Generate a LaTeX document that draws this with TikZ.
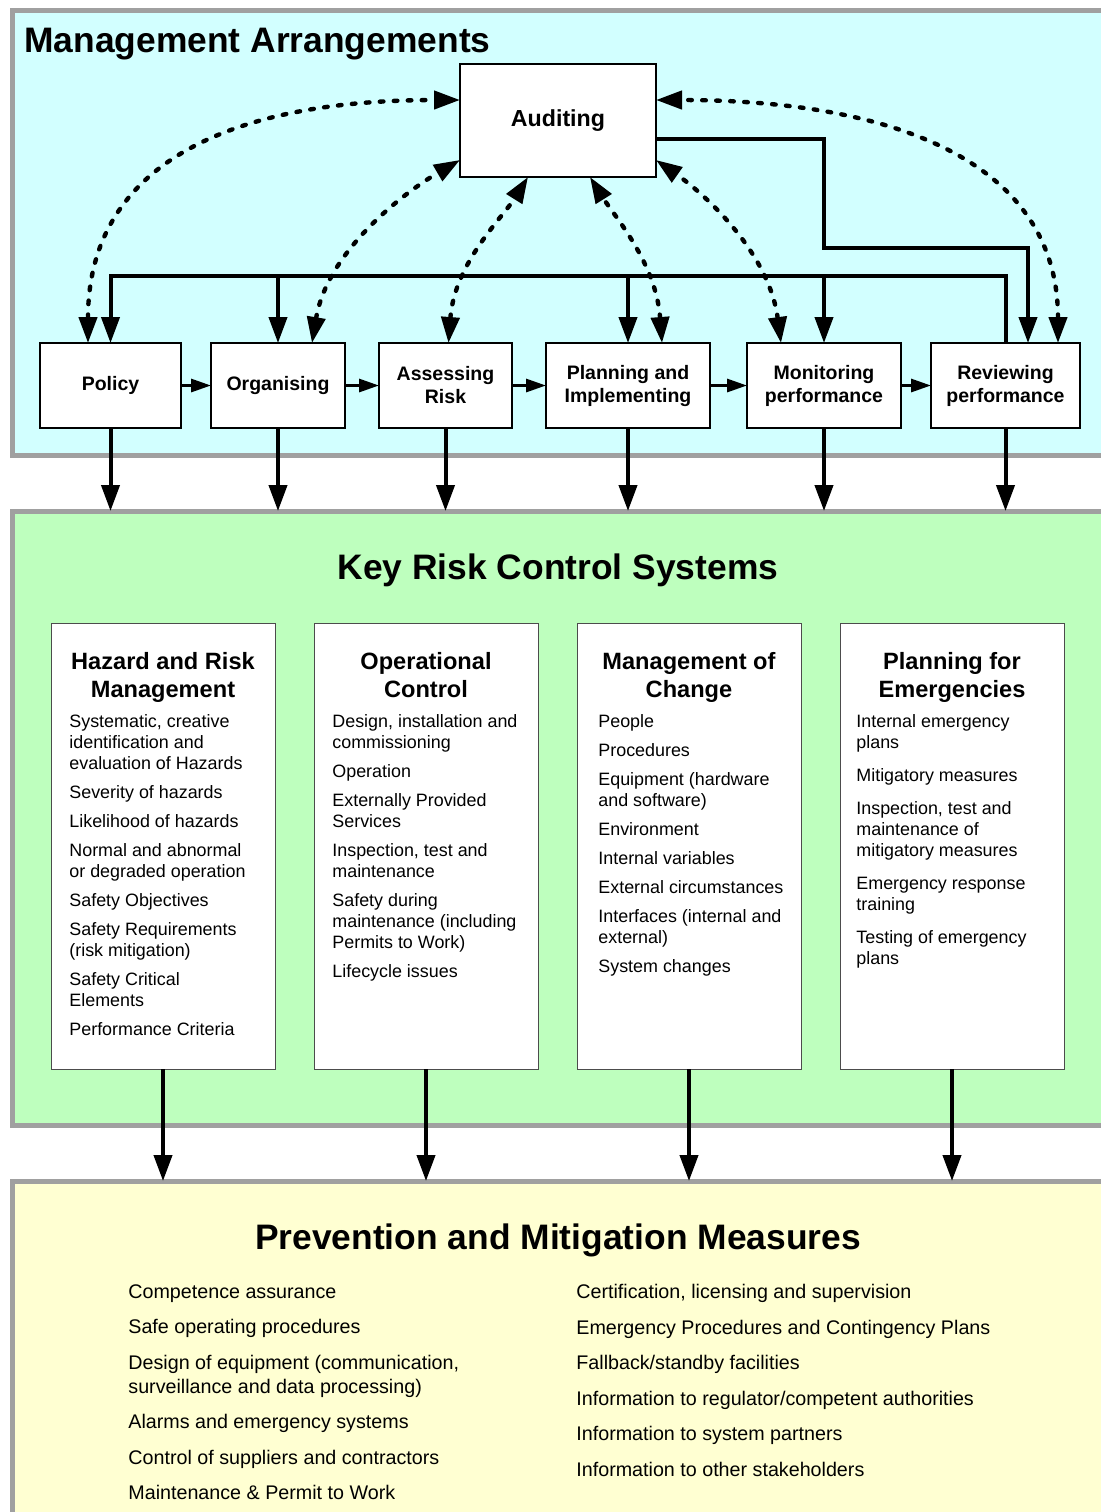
\documentclass[tikz,border=0pt]{standalone}
\usepackage{fontspec}
\setmainfont{Liberation Sans}
\usetikzlibrary{arrows.meta}
\definecolor{mapanel}{HTML}{D2FFFF}
\definecolor{krpanel}{HTML}{BEFFBE}
\definecolor{pmpanel}{HTML}{FFFFD2}
\definecolor{panelline}{HTML}{A0A0A0}
\begin{document}
\begin{tikzpicture}[x=0.5pt,y=-0.5pt,
  panel/.style={draw=panelline,line width=2.5pt,inner sep=0pt,outer sep=0pt,minimum width=551.25pt},
  paneltitle/.style={font=\bfseries\fontsize{17.7}{20}\selectfont,inner sep=0pt},
  stage/.style={draw,line width=1pt,fill=white,align=center,inner sep=0pt,outer sep=0pt,minimum height=42.5pt,font=\bfseries\fontsize{9.75}{11.5}\selectfont},
  krcsbox/.style={draw=black!70,line width=0.5pt,fill=white,minimum width=112pt,minimum height=223pt,outer sep=0pt},
  krcshead/.style={anchor=north,align=center,inner sep=0pt,font=\bfseries\fontsize{11.8}{14}\selectfont},
  krcsitems/.style={anchor=north west,align=left,inner sep=0pt,font=\fontsize{8.95}{10.5}\selectfont},
  pmmitems/.style={anchor=north west,align=left,inner sep=0pt,font=\fontsize{9.85}{12}\selectfont},
  flow/.style={line width=2pt,-{Triangle[length=13pt,width=9pt]}},
  nextstage/.style={line width=1.5pt,-{Triangle[length=10pt,width=6.5pt]}},
  audit/.style={line width=2.2pt,dash pattern=on 1.8pt off 5.2pt,line cap=round,{Triangle[length=13pt,width=9pt]}-{Triangle[length=13pt,width=9pt]}}]
\useasboundingbox (0,0) rectangle (1101,1512);

\node[panel,fill=mapanel,minimum height=222.5pt] (ma) at (563.75,233) {};
\node[panel,fill=krpanel,minimum height=307.25pt] (krcs) at (563.75,818.25) {};
\node[panel,fill=pmpanel,minimum height=174.5pt] (pmm) at (563.75,1355.5) {};

\node[paneltitle,anchor=base west] (matitle) at (24,52) {Management Arrangements};
\node[paneltitle,anchor=base] (krcstitle) at (558,579) {Key Risk Control Systems};
\node[paneltitle,anchor=base] (pmmtitle) at (558,1249) {Prevention and Mitigation Measures};

\node[stage,minimum width=98pt,minimum height=56.5pt,font=\bfseries\fontsize{11.6}{14}\selectfont] (aud) at (558,120.5) {Auditing};
\node[stage,minimum width=70.5pt] (pol) at (110.5,385.5) {Policy};
\node[stage,minimum width=67pt] (org) at (278,385.5) {Organising};
\node[stage,minimum width=66.5pt] (ass) at (445.5,385.5) {Assessing\\Risk};
\node[stage,minimum width=82pt] (pla) at (628,385.5) {Planning and\\Implementing};
\node[stage,minimum width=77pt] (mon) at (824,385.5) {Monitoring\\performance};
\node[stage,minimum width=74.5pt] (rev) at (1005.5,385.5) {Reviewing\\performance};

\draw[nextstage] (pol) -- (org);
\draw[nextstage] (org) -- (ass);
\draw[nextstage] (ass) -- (pla);
\draw[nextstage] (pla) -- (mon);
\draw[nextstage] (mon) -- (rev);

\coordinate (bus) at (558,276);
\coordinate (elbow) at (824,248);
\draw[flow] (rev.north) -- (rev.north |- bus) -- (pol.north |- bus) -- (pol.north);
\foreach \s in {org,pla,mon}
  \draw[flow] (\s.north |- bus) -- (\s.north);
\draw[flow] ([yshift=-9.25pt]aud.east) -| (elbow) -| ([xshift=11.25pt]rev.north);

\draw[audit] ([xshift=-11.25pt]pol.north) .. controls +(0,-173) and +(-240,0) .. ([yshift=10.25pt]aud.west);
\draw[audit] ([xshift=17pt]org.north) .. controls +(15,-90) and +(-60,35) .. ([yshift=-19.75pt]aud.west);
\draw[audit] ([xshift=1.5pt]ass.north) .. controls +(6,-80) and +(-25,40) .. ([xshift=-15pt]aud.south);
\draw[audit] ([xshift=17pt]pla.north) .. controls +(-6,-80) and +(25,40) .. ([xshift=16pt]aud.south);
\draw[audit] ([xshift=-21.5pt]mon.north) .. controls +(-12,-90) and +(50,35) .. ([yshift=-19.75pt]aud.east);
\draw[audit] ([xshift=26.25pt]rev.north) .. controls +(0,-178) and +(244,0) .. ([yshift=10.25pt]aud.east);

\foreach \s in {pol,org,ass,pla,mon,rev}
  \draw[flow] (\s.south) -- (\s.south |- krcs.north);

\node[krcsbox] (hrm) at (163,846) {};
\node[krcsbox] (opc) at (426,846) {};
\node[krcsbox] (moc) at (689,846) {};
\node[krcsbox] (pfe) at (952,846) {};

\node[krcshead] (hrmhead) at (163,652) {Hazard and Risk\\Management};
\node[krcshead] (opchead) at (426,652) {Operational\\Control};
\node[krcshead] (mochead) at (689,652) {Management of\\Change};
\node[krcshead] (pfehead) at (952,652) {Planning for\\Emergencies};

\node[krcsitems] (hrmitems) at (69,714) {Systematic, creative\\identification and\\evaluation of Hazards\\[4pt]Severity of hazards\\[4pt]Likelihood of hazards\\[4pt]Normal and abnormal\\or degraded operation\\[4pt]Safety Objectives\\[4pt]Safety Requirements\\(risk mitigation)\\[4pt]Safety Critical\\Elements\\[4pt]Performance Criteria};
\node[krcsitems] (opcitems) at (332,714) {Design, installation and\\commissioning\\[4pt]Operation\\[4pt]Externally Provided\\Services\\[4pt]Inspection, test and\\maintenance\\[4pt]Safety during\\maintenance (including\\Permits to Work)\\[4pt]Lifecycle issues};
\node[krcsitems] (mocitems) at (598,714) {People\\[4pt]Procedures\\[4pt]Equipment (hardware\\and software)\\[4pt]Environment\\[4pt]Internal variables\\[4pt]External circumstances\\[4pt]Interfaces (internal and\\external)\\[4pt]System changes};
\node[krcsitems] (pfeitems) at (856,714) {Internal emergency\\plans\\[6pt]Mitigatory measures\\[6pt]Inspection, test and\\maintenance of\\mitigatory measures\\[6pt]Emergency response\\training\\[6pt]Testing of emergency\\plans};

\foreach \c in {hrm,opc,moc,pfe}
  \draw[flow] (\c.south) -- (\c.south |- pmm.north);

\node[pmmitems] (pmmleft) at (128,1284) {Competence assurance\\[5.75pt]Safe operating procedures\\[5.75pt]Design of equipment (communication,\\surveillance and data processing)\\[5.75pt]Alarms and emergency systems\\[5.75pt]Control of suppliers and contractors\\[5.75pt]Maintenance \& Permit to Work};
\node[pmmitems] (pmmright) at (576,1284) {Certification, licensing and supervision\\[5.75pt]Emergency Procedures and Contingency Plans\\[5.75pt]Fallback/standby facilities\\[5.75pt]Information to regulator/competent authorities\\[5.75pt]Information to system partners\\[5.75pt]Information to other stakeholders};
\end{tikzpicture}
\end{document}
